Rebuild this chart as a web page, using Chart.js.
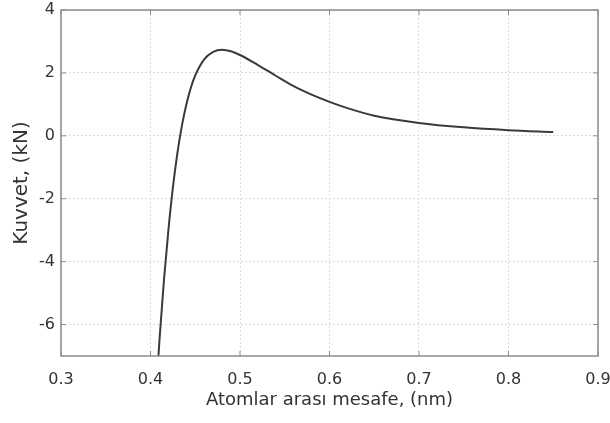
<!DOCTYPE html>
<html>
<head>
<meta charset="utf-8">
<script src="https://cdn.jsdelivr.net/npm/chart.js@4"></script>
<style>
  html, body { margin: 0; padding: 0; background: #fff; }
  #wrap { width: 610px; height: 423px; }
</style>
</head>
<body>
<div id="wrap"><canvas id="forceChart"></canvas></div>
<script>
// Data
var distances = [0.408, 0.41, 0.415, 0.42, 0.425, 0.43, 0.435, 0.44, 0.445, 0.45, 0.46, 0.47, 0.48, 0.49, 0.5, 0.52, 0.54, 0.56, 0.58, 0.6, 0.62, 0.65, 0.7, 0.75, 0.8, 0.85];
var forces = [-7.4, -6.5, -4.6, -3.0, -1.65, -0.56, 0.31, 0.99, 1.52, 1.92, 2.43, 2.67, 2.74, 2.69, 2.57, 2.25, 1.91, 1.58, 1.31, 1.08, 0.88, 0.64, 0.41, 0.27, 0.18, 0.12];
var xTicks = [0.3, 0.4, 0.5, 0.6, 0.7, 0.8, 0.9];
var yTicks = [-6, -4, -2, 0, 2, 4];

document.addEventListener("DOMContentLoaded", function () {
    var points = distances.map(function (d, i) { return { x: d, y: forces[i] }; });

    // full axes box with small inward tick marks
    var boxPlugin = {
        id: "box",
        afterDraw: function (chart) {
            var a = chart.chartArea, ctx = chart.ctx;
            var xs = chart.scales.x, ys = chart.scales.y;
            ctx.save();
            ctx.strokeStyle = "#8c8c8c";
            ctx.lineWidth = 1.5;
            ctx.strokeRect(a.left, a.top, a.right - a.left, a.bottom - a.top);
            ctx.lineWidth = 1;
            ctx.beginPath();
            xTicks.forEach(function (v) {
                var px = xs.getPixelForValue(v);
                ctx.moveTo(px, a.bottom); ctx.lineTo(px, a.bottom - 5);
                ctx.moveTo(px, a.top); ctx.lineTo(px, a.top + 5);
            });
            yTicks.forEach(function (v) {
                var py = ys.getPixelForValue(v);
                ctx.moveTo(a.left, py); ctx.lineTo(a.left + 5, py);
                ctx.moveTo(a.right, py); ctx.lineTo(a.right - 5, py);
            });
            ctx.stroke();
            ctx.restore();
        }
    };

    var family = "'DejaVu Sans', sans-serif";

    new Chart(document.getElementById("forceChart"), {
        type: "line",
        data: {
            datasets: [{
                data: points,
                borderColor: "#3a3a3a",
                borderWidth: 2,
                pointRadius: 0,
                cubicInterpolationMode: "monotone",
                fill: false
            }]
        },
        options: {
            responsive: true,
            maintainAspectRatio: false,
            animation: false,
            layout: { padding: { left: 0, right: 12, top: 10, bottom: 0 } },
            plugins: { legend: { display: false }, tooltip: { enabled: false } },
            scales: {
                x: {
                    type: "linear",
                    min: 0.3,
                    max: 0.9,
                    afterBuildTicks: function (s) { s.ticks = xTicks.map(function (v) { return { value: v }; }); },
                    afterFit: function (s) { s.height = 67; s.paddingLeft = 0; s.paddingRight = 0; },
                    grid: { color: "#dcdcdc", drawTicks: false },
                    border: { display: false, dash: [2, 2] },
                    ticks: { color: "#333", font: { family: family, size: 16 }, padding: 14, callback: function (v) { return v.toFixed(1); } },
                    title: { display: true, text: "Atomlar arası mesafe, (nm)", color: "#333", font: { family: family, size: 18 }, padding: { top: 4, bottom: 12 } }
                },
                y: {
                    min: -7,
                    max: 4,
                    afterBuildTicks: function (s) { s.ticks = yTicks.map(function (v) { return { value: v }; }); },
                    afterFit: function (s) { s.width = 61; s.paddingTop = 0; s.paddingBottom = 0; },
                    grid: { color: "#dcdcdc", drawTicks: false },
                    border: { display: false, dash: [2, 2] },
                    ticks: { color: "#333", font: { family: family, size: 16 }, padding: 6 },
                    title: { display: true, text: "Kuvvet, (kN)", color: "#333", font: { family: family, size: 20 }, padding: { top: 10, bottom: 0 } }
                }
            }
        },
        plugins: [boxPlugin]
    });
});
</script>
</body>
</html>
